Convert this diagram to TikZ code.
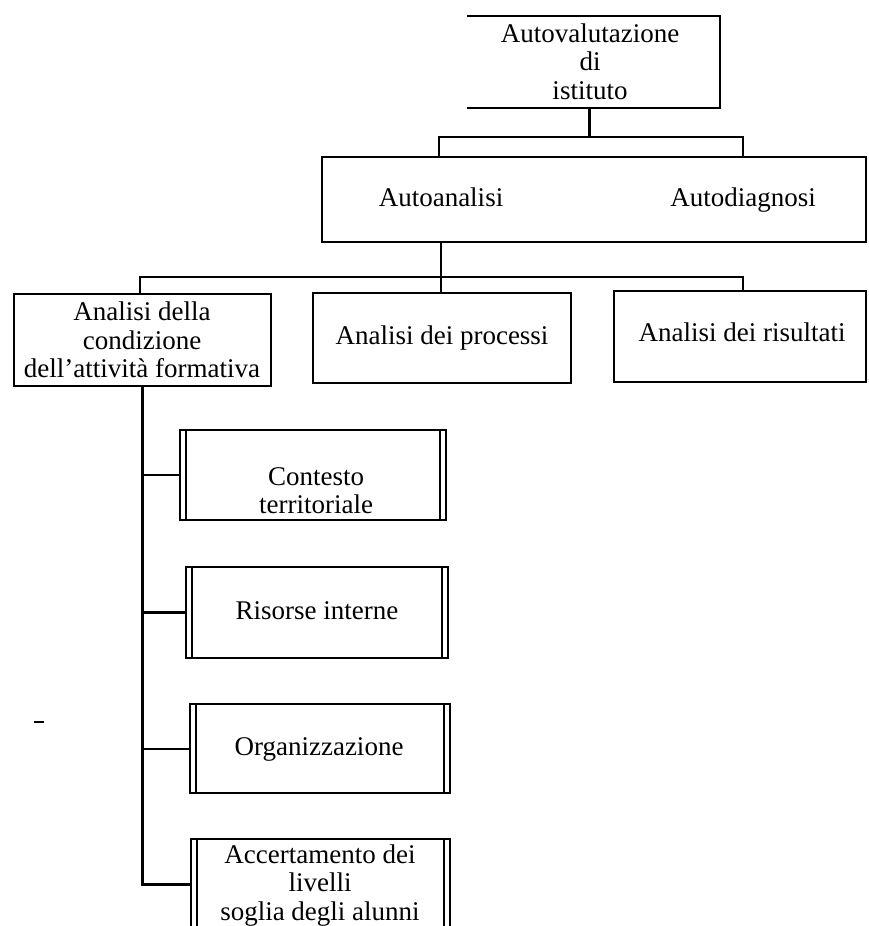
\documentclass[tikz,border=0pt]{standalone}
\usepackage{fontspec}
\setmainfont{Liberation Serif}
\begin{document}
\begin{tikzpicture}[x=1pt,y=-1pt,
  box/.style={draw, line width=2pt, inner sep=0pt, outer sep=0pt},
  dbox/.style={box, path picture={
      \draw[line width=1.6pt] ([xshift=6pt]path picture bounding box.north west) -- ([xshift=6pt]path picture bounding box.south west);
      \draw[line width=1.6pt] ([xshift=-6pt]path picture bounding box.north east) -- ([xshift=-6pt]path picture bounding box.south east);}},
  lbl/.style={font=\fontsize{27}{28.5}\selectfont, align=center, inner sep=0pt},
  sl/.style={lbl, text height=19pt, text depth=6pt},
  conn/.style={line width=2pt},
  spine/.style={line width=3pt}]
\useasboundingbox (0,0) rectangle (869,926);
% top box (left edge not printed)
\node[inner sep=0pt, outer sep=0pt, minimum width=253pt, minimum height=92pt] (top) at (593.5,62) {};
\draw[line width=1.8pt] (top.north west) -- (top.north east) -- (top.south east) -- (top.south west);
\node[lbl] (ttop) at (590,61.5) {Autovalutazione\\di\\istituto};
% second level
\node[box, minimum width=544pt, minimum height=85pt] (auto) at (594,199.5) {};
\node[sl] (taa) at (441,200) {Autoanalisi};
\node[sl] (tad) at (743,200) {Autodiagnosi};
\coordinate (b1) at (589,137);
\coordinate (bar1L) at (439,137);
\coordinate (bar1R) at (743,137);
\draw[spine] (top.south -| b1) -- (b1);
\draw[conn] (auto.north -| bar1L) -- (bar1L) -- (bar1R) -- (auto.north -| bar1R);
% third level
\node[box, minimum width=257pt, minimum height=92pt] (cond) at (142.5,340) {};
\node[box, minimum width=258pt, minimum height=90pt] (proc) at (442,338) {};
\node[box, minimum width=252pt, minimum height=91pt] (ris) at (740,336.5) {};
\node[lbl] (tcond) at (142,340) {Analisi della\\condizione\\dell'attività formativa};
\node[sl] (tproc) at (442,338) {Analisi dei processi};
\node[sl] (tris) at (742,335) {Analisi dei risultati};
\coordinate (bar2L) at (140,277);
\coordinate (bar2R) at (743,277);
\draw[conn] (auto.south -| taa) -- (proc.north -| taa);
\draw[conn] (cond.north -| bar2L) -- (bar2L) -- (bar2R) -- (ris.north -| bar2R);
% fourth level
\node[dbox, minimum width=266pt, minimum height=90pt] (ctx) at (313,475) {};
\node[dbox, minimum width=262pt, minimum height=91pt] (risi) at (317,612.5) {};
\node[dbox, minimum width=260pt, minimum height=89pt] (org) at (320,748.5) {};
\node[dbox, minimum width=259pt, minimum height=111pt] (acc) at (320.5,894.5) {};
\node[lbl] (tctx) at (316,490.5) {Contesto\\territoriale};
\node[sl] (trisi) at (317,613) {Risorse interne};
\node[sl] (torg) at (319,749) {Organizzazione};
\node[lbl] (tacc) at (320,885.5) {Accertamento dei\\livelli\\soglia degli alunni};
\coordinate (sp) at (142,884);
\draw[spine] (cond.south -| sp) -- (sp) -- (acc.west |- sp);
\draw[conn] (ctx.west -| sp) -- (ctx.west);
\draw[spine] (risi.west -| sp) -- (risi.west);
\draw[conn] (org.west -| sp) -- (org.west);
% stray mark printed in the scan
\draw[line width=2pt] (34,722) -- (44,722);
\end{tikzpicture}
\end{document}
